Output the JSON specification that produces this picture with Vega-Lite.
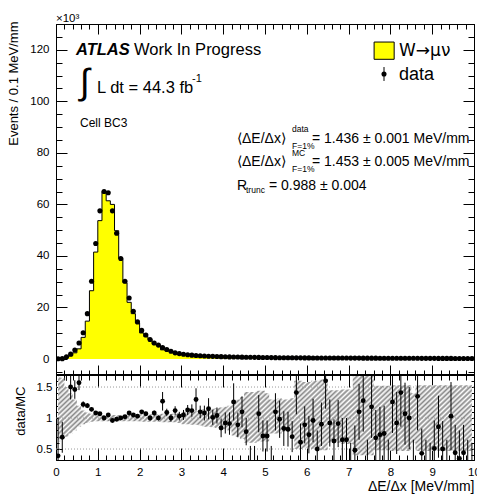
{
"$schema": "https://vega.github.io/schema/vega-lite/v6.json",
"autosize": {"type": "pad"},
"padding": {"left": 7, "top": 12, "right": 0, "bottom": 0},
"background": "white",
"spacing": 0,
"bounds": "flush",
"config": {
  "font": "Liberation Sans",
  "view": {"stroke": "black", "strokeWidth": 1},
  "axis": {"domain": false, "grid": false, "labelFlush": false, "tickColor": "black", "tickWidth": 1, "labelColor": "black", "labelFont": "Liberation Sans", "titleColor": "black", "titleFont": "Liberation Sans", "titleFontWeight": "normal"}
},
"datasets": {
  "one": [{}],
  "grid": [{"g": 0.5}, {"g": 1}, {"g": 1.5}],
  "h": [
{"x":0.05,"d":0.1,"mc":0.2,"r":0.39,"e":0.62,"lo":0.62,"hi":1.69},
{"x":0.15,"d":0.15,"mc":0.22,"r":0.69,"e":0.25,"lo":0.66,"hi":1.65},
{"x":0.25,"d":0.9,"mc":0.5,"r":1.9,"e":0.3,"lo":0.70,"hi":1.50},
{"x":0.35,"d":1.9,"mc":1.27,"r":1.50,"e":0.2,"lo":0.75,"hi":1.40},
{"x":0.45,"d":3.5,"mc":2.4,"r":1.46,"e":0.15,"lo":0.80,"hi":1.30},
{"x":0.55,"d":6.2,"mc":3.95,"r":1.57,"e":0.12,"lo":0.86,"hi":1.20},
{"x":0.65,"d":10.2,"mc":8.4,"r":1.22,"e":0.05,"lo":0.90,"hi":1.12},
{"x":0.75,"d":17.6,"mc":14.7,"r":1.20,"e":0.04,"lo":0.92,"hi":1.09},
{"x":0.85,"d":30.2,"mc":26.5,"r":1.14,"e":0.03,"lo":0.94,"hi":1.07},
{"x":0.95,"d":44.8,"mc":41.5,"r":1.08,"e":0.02,"lo":0.95,"hi":1.06},
{"x":1.05,"d":57.5,"mc":53.7,"r":1.07,"e":0.02,"lo":0.95,"hi":1.05},
{"x":1.15,"d":65.0,"mc":65.0,"r":1.00,"e":0.02,"lo":0.95,"hi":1.05},
{"x":1.25,"d":64.5,"mc":61.4,"r":1.05,"e":0.02,"lo":0.95,"hi":1.05},
{"x":1.35,"d":57.5,"mc":60.0,"r":0.96,"e":0.02,"lo":0.95,"hi":1.05},
{"x":1.45,"d":48.8,"mc":49.8,"r":0.98,"e":0.02,"lo":0.95,"hi":1.05},
{"x":1.55,"d":39.0,"mc":39.0,"r":1.00,"e":0.02,"lo":0.95,"hi":1.05},
{"x":1.65,"d":30.2,"mc":29.6,"r":1.02,"e":0.02,"lo":0.95,"hi":1.05},
{"x":1.75,"d":23.7,"mc":22.0,"r":1.08,"e":0.02,"lo":0.95,"hi":1.05},
{"x":1.85,"d":18.5,"mc":17.6,"r":1.05,"e":0.02,"lo":0.95,"hi":1.05},
{"x":1.95,"d":14.4,"mc":14.0,"r":1.03,"e":0.02,"lo":0.95,"hi":1.05},
{"x":2.05,"d":11.1,"mc":10.1,"r":1.10,"e":0.03,"lo":0.94,"hi":1.06},
{"x":2.15,"d":9.3,"mc":8.7,"r":1.07,"e":0.03,"lo":0.94,"hi":1.06},
{"x":2.25,"d":7.6,"mc":7.6,"r":1.00,"e":0.04,"lo":0.94,"hi":1.06},
{"x":2.35,"d":6.2,"mc":5.75,"r":1.08,"e":0.04,"lo":0.94,"hi":1.06},
{"x":2.45,"d":5.4,"mc":5.4,"r":1.00,"e":0.04,"lo":0.94,"hi":1.06},
{"x":2.55,"d":4.5,"mc":3.55,"r":1.27,"e":0.15,"lo":0.93,"hi":1.07},
{"x":2.65,"d":3.7,"mc":3.4,"r":1.09,"e":0.06,"lo":0.93,"hi":1.07},
{"x":2.75,"d":3.0,"mc":3.0,"r":1.00,"e":0.06,"lo":0.93,"hi":1.07},
{"x":2.85,"d":2.4,"mc":2.15,"r":1.12,"e":0.07,"lo":0.93,"hi":1.07},
{"x":2.95,"d":2.1,"mc":2.05,"r":1.03,"e":0.07,"lo":0.92,"hi":1.08},
{"x":3.05,"d":1.85,"mc":1.76,"r":1.05,"e":0.08,"lo":0.90,"hi":1.10},
{"x":3.15,"d":1.65,"mc":1.46,"r":1.13,"e":0.08,"lo":0.90,"hi":1.10},
{"x":3.25,"d":1.5,"mc":1.34,"r":1.12,"e":0.1,"lo":0.89,"hi":1.11},
{"x":3.35,"d":1.38,"mc":1.06,"r":1.30,"e":0.18,"lo":0.89,"hi":1.11},
{"x":3.45,"d":1.27,"mc":1.15,"r":1.10,"e":0.1,"lo":0.88,"hi":1.12},
{"x":3.55,"d":1.18,"mc":1.09,"r":1.08,"e":0.12,"lo":0.86,"hi":1.14},
{"x":3.65,"d":1.1,"mc":0.96,"r":1.15,"e":0.17,"lo":0.86,"hi":1.14},
{"x":3.75,"d":1.03,"mc":1.02,"r":1.01,"e":0.12,"lo":0.85,"hi":1.15},
{"x":3.85,"d":0.97,"mc":0.93,"r":1.04,"e":0.13,"lo":0.84,"hi":1.16},
{"x":3.95,"d":0.92,"mc":1.1,"r":0.84,"e":0.15,"lo":0.83,"hi":1.17},
{"x":4.05,"d":0.87,"mc":0.95,"r":0.92,"e":0.17,"lo":0.82,"hi":1.18},
{"x":4.15,"d":0.83,"mc":0.91,"r":0.91,"e":0.18,"lo":0.80,"hi":1.20},
{"x":4.25,"d":0.79,"mc":0.63,"r":1.26,"e":0.3,"lo":0.72,"hi":1.28},
{"x":4.35,"d":0.76,"mc":0.85,"r":0.89,"e":0.2,"lo":0.70,"hi":1.30},
{"x":4.45,"d":0.73,"mc":0.66,"r":1.10,"e":0.25,"lo":0.66,"hi":1.34},
{"x":4.55,"d":0.7,"mc":0.9,"r":0.78,"e":0.22,"lo":0.60,"hi":1.42},
{"x":4.65,"d":0.67,"mc":0.7,"r":0.25,"e":0.3,"lo":0.60,"hi":1.42},
{"x":4.75,"d":0.65,"mc":0.68,"r":0.25,"e":0.3,"lo":0.60,"hi":1.42},
{"x":4.85,"d":0.62,"mc":0.58,"r":1.07,"e":0.3,"lo":0.62,"hi":1.44},
{"x":4.95,"d":0.6,"mc":0.85,"r":0.71,"e":0.25,"lo":0.62,"hi":1.44},
{"x":5.05,"d":0.58,"mc":0.8,"r":0.71,"e":0.25,"lo":0.62,"hi":1.40},
{"x":5.15,"d":0.56,"mc":0.6,"r":0.25,"e":0.3,"lo":0.75,"hi":1.30},
{"x":5.25,"d":0.54,"mc":0.49,"r":1.10,"e":0.3,"lo":0.75,"hi":1.30},
{"x":5.35,"d":0.52,"mc":0.53,"r":0.98,"e":0.3,"lo":0.75,"hi":1.32},
{"x":5.45,"d":0.51,"mc":0.6,"r":0.83,"e":0.28,"lo":0.78,"hi":1.30},
{"x":5.55,"d":0.49,"mc":0.6,"r":0.82,"e":0.28,"lo":0.78,"hi":1.30},
{"x":5.65,"d":0.48,"mc":0.68,"r":0.70,"e":0.25,"lo":0.75,"hi":1.32},
{"x":5.75,"d":0.46,"mc":0.33,"r":1.41,"e":0.35,"lo":0.50,"hi":1.60},
{"x":5.85,"d":0.45,"mc":0.7,"r":0.61,"e":0.3,"lo":0.50,"hi":1.60},
{"x":5.95,"d":0.44,"mc":0.5,"r":0.89,"e":0.3,"lo":0.52,"hi":1.58},
{"x":6.05,"d":0.43,"mc":0.59,"r":0.73,"e":0.3,"lo":0.52,"hi":1.58},
{"x":6.15,"d":0.42,"mc":0.44,"r":0.96,"e":0.35,"lo":0.50,"hi":1.60},
{"x":6.25,"d":0.41,"mc":0.8,"r":0.50,"e":0.3,"lo":0.50,"hi":1.60},
{"x":6.35,"d":0.41,"mc":0.45,"r":0.90,"e":0.35,"lo":0.48,"hi":1.62},
{"x":6.45,"d":0.40,"mc":0.25,"r":1.60,"e":0.45,"lo":0.48,"hi":1.62},
{"x":6.55,"d":0.39,"mc":0.42,"r":0.92,"e":0.38,"lo":0.60,"hi":1.45},
{"x":6.65,"d":0.39,"mc":0.6,"r":0.63,"e":0.35,"lo":0.60,"hi":1.45},
{"x":6.75,"d":0.38,"mc":0.42,"r":0.91,"e":0.38,"lo":0.60,"hi":1.45},
{"x":6.85,"d":0.37,"mc":0.57,"r":0.65,"e":0.35,"lo":0.58,"hi":1.46},
{"x":6.95,"d":0.37,"mc":0.57,"r":0.65,"e":0.35,"lo":0.58,"hi":1.46},
{"x":7.05,"d":0.36,"mc":0.4,"r":0.25,"e":0.35,"lo":0.58,"hi":1.46},
{"x":7.15,"d":0.35,"mc":0.7,"r":0.48,"e":0.4,"lo":0.40,"hi":1.69},
{"x":7.25,"d":0.35,"mc":0.32,"r":1.10,"e":0.45,"lo":0.40,"hi":1.69},
{"x":7.35,"d":0.34,"mc":0.27,"r":1.28,"e":0.5,"lo":0.40,"hi":1.69},
{"x":7.45,"d":0.34,"mc":0.4,"r":0.25,"e":0.4,"lo":0.40,"hi":1.69},
{"x":7.55,"d":0.33,"mc":0.28,"r":1.18,"e":0.5,"lo":0.40,"hi":1.69},
{"x":7.65,"d":0.33,"mc":0.48,"r":0.68,"e":0.45,"lo":0.48,"hi":1.52},
{"x":7.75,"d":0.32,"mc":0.44,"r":0.73,"e":0.45,"lo":0.48,"hi":1.52},
{"x":7.85,"d":0.32,"mc":0.43,"r":0.75,"e":0.45,"lo":0.48,"hi":1.52},
{"x":7.95,"d":0.31,"mc":0.4,"r":0.25,"e":0.4,"lo":0.48,"hi":1.52},
{"x":8.05,"d":0.31,"mc":0.25,"r":1.26,"e":0.5,"lo":0.47,"hi":1.53},
{"x":8.15,"d":0.30,"mc":0.33,"r":0.92,"e":0.5,"lo":0.47,"hi":1.53},
{"x":8.25,"d":0.30,"mc":0.21,"r":1.41,"e":0.55,"lo":0.47,"hi":1.53},
{"x":8.35,"d":0.29,"mc":0.27,"r":1.07,"e":0.5,"lo":0.47,"hi":1.53},
{"x":8.45,"d":0.29,"mc":0.29,"r":1.00,"e":0.5,"lo":0.47,"hi":1.53},
{"x":8.55,"d":0.28,"mc":0.35,"r":0.25,"e":0.4,"lo":0.60,"hi":1.40},
{"x":8.65,"d":0.28,"mc":0.21,"r":1.35,"e":0.55,"lo":0.47,"hi":1.53},
{"x":8.75,"d":0.27,"mc":0.6,"r":0.43,"e":0.4,"lo":0.47,"hi":1.53},
{"x":8.85,"d":0.27,"mc":0.35,"r":0.25,"e":0.4,"lo":0.47,"hi":1.53},
{"x":8.95,"d":0.26,"mc":0.35,"r":0.2,"e":0.4,"lo":0.47,"hi":1.53},
{"x":9.05,"d":0.26,"mc":0.5,"r":0.51,"e":0.45,"lo":0.47,"hi":1.53},
{"x":9.15,"d":0.25,"mc":0.29,"r":0.86,"e":0.5,"lo":0.47,"hi":1.53},
{"x":9.25,"d":0.25,"mc":0.5,"r":0.50,"e":0.45,"lo":0.47,"hi":1.53},
{"x":9.35,"d":0.24,"mc":0.3,"r":0.25,"e":0.4,"lo":0.47,"hi":1.53},
{"x":9.45,"d":0.24,"mc":0.23,"r":1.03,"e":0.55,"lo":0.47,"hi":1.53},
{"x":9.55,"d":0.23,"mc":0.5,"r":0.44,"e":0.45,"lo":0.47,"hi":1.53},
{"x":9.65,"d":0.23,"mc":0.6,"r":0.35,"e":0.45,"lo":0.47,"hi":1.53},
{"x":9.75,"d":0.23,"mc":0.5,"r":0.44,"e":0.45,"lo":0.47,"hi":1.53},
{"x":9.85,"d":0.22,"mc":0.3,"r":0.25,"e":0.4,"lo":0.47,"hi":1.53},
{"x":9.95,"d":0.22,"mc":0.3,"r":0.2,"e":0.4,"lo":0.47,"hi":1.53}
  ]
},
"vconcat": [
{
  "width": 418, "height": 351,
  "resolve": {"axis": {"x": "independent", "y": "independent"}},
  "layer": [
    {"data": {"name": "h"},
     "mark": {"type": "area", "interpolate": "step", "fill": "#ffff00", "clip": true},
     "encoding": {
       "x": {"field": "x", "type": "quantitative", "scale": {"domain": [0, 10], "nice": false, "zero": false},
             "axis": {"orient": "bottom", "values": [0,1,2,3,4,5,6,7,8,9,10], "tickSize": 10, "offset": -10, "labels": false, "title": null}},
       "y": {"field": "mc", "type": "quantitative", "scale": {"domain": [-6.2, 130], "nice": false, "zero": false},
             "axis": {"orient": "left", "values": [0,20,40,60,80,100,120], "tickSize": 11, "offset": -11, "labelPadding": 7, "labelFontSize": 11.5, "title": "Events / 0.1 MeV/mm", "titleFontSize": 13, "titleAnchor": "end", "titlePadding": 9, "titleY": -3}}
     }},
    {"data": {"name": "h"},
     "mark": {"type": "line", "interpolate": "step", "color": "black", "strokeWidth": 1, "clip": true},
     "encoding": {
       "x": {"field": "x", "type": "quantitative", "axis": null},
       "y": {"field": "mc", "type": "quantitative", "axis": null}
     }},
    {"data": {"name": "h"},
     "mark": {"type": "point", "filled": true, "color": "black", "opacity": 1, "size": 26, "clip": true},
     "encoding": {
       "x": {"field": "x", "type": "quantitative",
             "axis": {"orient": "bottom", "values": [0,0.2,0.4,0.6,0.8,1,1.2,1.4,1.6,1.8,2,2.2,2.4,2.6,2.8,3,3.2,3.4,3.6,3.8,4,4.2,4.4,4.6,4.8,5,5.2,5.4,5.6,5.8,6,6.2,6.4,6.6,6.8,7,7.2,7.4,7.6,7.8,8,8.2,8.4,8.6,8.8,9,9.2,9.4,9.6,9.8,10], "tickSize": 5, "offset": -5, "labels": false, "title": null}},
       "y": {"field": "d", "type": "quantitative",
             "axis": {"orient": "left", "values": [-5,0,5,10,15,20,25,30,35,40,45,50,55,60,65,70,75,80,85,90,95,100,105,110,115,120,125,130], "tickSize": 6, "offset": -6, "labels": false, "title": null}}
     }},
    {"data": {"name": "h"},
     "mark": {"type": "point", "opacity": 0},
     "encoding": {
       "x": {"field": "x", "type": "quantitative",
             "axis": {"orient": "top", "values": [0,1,2,3,4,5,6,7,8,9,10], "tickSize": 10, "offset": -10, "labels": false, "title": null}},
       "y": {"field": "d", "type": "quantitative",
             "axis": {"orient": "right", "values": [0,20,40,60,80,100,120], "tickSize": 11, "offset": -11, "labels": false, "title": null}}
     }},
    {"data": {"name": "h"},
     "mark": {"type": "point", "opacity": 0},
     "encoding": {
       "x": {"field": "x", "type": "quantitative",
             "axis": {"orient": "top", "values": [0,0.2,0.4,0.6,0.8,1,1.2,1.4,1.6,1.8,2,2.2,2.4,2.6,2.8,3,3.2,3.4,3.6,3.8,4,4.2,4.4,4.6,4.8,5,5.2,5.4,5.6,5.8,6,6.2,6.4,6.6,6.8,7,7.2,7.4,7.6,7.8,8,8.2,8.4,8.6,8.8,9,9.2,9.4,9.6,9.8,10], "tickSize": 5, "offset": -5, "labels": false, "title": null}},
       "y": {"field": "d", "type": "quantitative",
             "axis": {"orient": "right", "values": [-5,0,5,10,15,20,25,30,35,40,45,50,55,60,65,70,75,80,85,90,95,100,105,110,115,120,125,130], "tickSize": 6, "offset": -6, "labels": false, "title": null}}
     }},
    {"data": {"name": "one"}, "mark": {"type": "text", "text": "×10³", "fontSize": 11.5, "align": "left", "baseline": "alphabetic"},
     "encoding": {"x": {"datum": 0, "axis": null}, "y": {"datum": 130.6, "axis": null}}},
    {"data": {"name": "one"}, "mark": {"type": "text", "text": "ATLAS", "fontSize": 16.5, "fontStyle": "italic", "fontWeight": "bold", "align": "left", "baseline": "alphabetic"},
     "encoding": {"x": {"datum": 0.478, "axis": null}, "y": {"datum": 118, "axis": null}}},
    {"data": {"name": "one"}, "mark": {"type": "text", "text": "Work In Progress", "fontSize": 16.5, "align": "left", "baseline": "alphabetic"},
     "encoding": {"x": {"datum": 1.866, "axis": null}, "y": {"datum": 118, "axis": null}}},
    {"data": {"name": "one"}, "mark": {"type": "text", "text": "∫", "fontSize": 36, "align": "left", "baseline": "middle"},
     "encoding": {"x": {"datum": 0.574, "axis": null}, "y": {"datum": 107.1, "axis": null}}},
    {"data": {"name": "one"}, "mark": {"type": "text", "text": "L dt = 44.3 fb", "fontSize": 16.5, "align": "left", "baseline": "alphabetic"},
     "encoding": {"x": {"datum": 0.981, "axis": null}, "y": {"datum": 103.2, "axis": null}}},
    {"data": {"name": "one"}, "mark": {"type": "text", "text": "-1", "fontSize": 11, "align": "left", "baseline": "alphabetic"},
     "encoding": {"x": {"datum": 3.254, "axis": null}, "y": {"datum": 107.5, "axis": null}}},
    {"data": {"name": "one"}, "mark": {"type": "text", "text": "Cell BC3", "fontSize": 12, "align": "left", "baseline": "alphabetic"},
     "encoding": {"x": {"datum": 0.574, "axis": null}, "y": {"datum": 90, "axis": null}}},
    {"data": {"name": "one"}, "mark": {"type": "rect", "fill": "#ffff00", "stroke": "black", "strokeWidth": 1},
     "encoding": {"x": {"datum": 7.61, "axis": null}, "x2": {"datum": 8.09}, "y": {"datum": 123.0, "axis": null}, "y2": {"datum": 116.3}}},
    {"data": {"name": "one"}, "mark": {"type": "text", "text": "W→μν", "font": "DejaVu Sans", "fontSize": 17, "align": "left", "baseline": "alphabetic"},
     "encoding": {"x": {"datum": 8.206, "axis": null}, "y": {"datum": 117.6, "axis": null}}},
    {"data": {"name": "one"}, "mark": {"type": "rule", "color": "black", "strokeWidth": 1},
     "encoding": {"x": {"datum": 7.847, "axis": null}, "y": {"datum": 113.3, "axis": null}, "y2": {"datum": 107.9}}},
    {"data": {"name": "one"}, "mark": {"type": "point", "filled": true, "color": "black", "opacity": 1, "size": 26},
     "encoding": {"x": {"datum": 7.847, "axis": null}, "y": {"datum": 110.6, "axis": null}}},
    {"data": {"name": "one"}, "mark": {"type": "text", "text": "data", "fontSize": 18, "align": "left", "baseline": "alphabetic"},
     "encoding": {"x": {"datum": 8.206, "axis": null}, "y": {"datum": 108.3, "axis": null}}},
    {"data": {"name": "one"}, "mark": {"type": "text", "text": "⟨ΔE/Δx⟩", "fontSize": 14, "align": "left", "baseline": "alphabetic"},
     "encoding": {"x": {"datum": 4.33, "axis": null}, "y": {"datum": 83.8, "axis": null}}},
    {"data": {"name": "one"}, "mark": {"type": "text", "text": "data", "fontSize": 8.5, "align": "left", "baseline": "alphabetic"},
     "encoding": {"x": {"datum": 5.646, "axis": null}, "y": {"datum": 87.9, "axis": null}}},
    {"data": {"name": "one"}, "mark": {"type": "text", "text": "F=1%", "fontSize": 8.5, "align": "left", "baseline": "alphabetic"},
     "encoding": {"x": {"datum": 5.646, "axis": null}, "y": {"datum": 81.6, "axis": null}}},
    {"data": {"name": "one"}, "mark": {"type": "text", "text": "= 1.436 ± 0.001 MeV/mm", "fontSize": 14, "align": "left", "baseline": "alphabetic"},
     "encoding": {"x": {"datum": 6.124, "axis": null}, "y": {"datum": 83.8, "axis": null}}},
    {"data": {"name": "one"}, "mark": {"type": "text", "text": "⟨ΔE/Δx⟩", "fontSize": 14, "align": "left", "baseline": "alphabetic"},
     "encoding": {"x": {"datum": 4.33, "axis": null}, "y": {"datum": 74.9, "axis": null}}},
    {"data": {"name": "one"}, "mark": {"type": "text", "text": "MC", "fontSize": 8.5, "align": "left", "baseline": "alphabetic"},
     "encoding": {"x": {"datum": 5.646, "axis": null}, "y": {"datum": 78.6, "axis": null}}},
    {"data": {"name": "one"}, "mark": {"type": "text", "text": "F=1%", "fontSize": 8.5, "align": "left", "baseline": "alphabetic"},
     "encoding": {"x": {"datum": 5.646, "axis": null}, "y": {"datum": 72.6, "axis": null}}},
    {"data": {"name": "one"}, "mark": {"type": "text", "text": "= 1.453 ± 0.005 MeV/mm", "fontSize": 14, "align": "left", "baseline": "alphabetic"},
     "encoding": {"x": {"datum": 6.124, "axis": null}, "y": {"datum": 74.9, "axis": null}}},
    {"data": {"name": "one"}, "mark": {"type": "text", "text": "R", "fontSize": 14, "align": "left", "baseline": "alphabetic"},
     "encoding": {"x": {"datum": 4.33, "axis": null}, "y": {"datum": 65.6, "axis": null}}},
    {"data": {"name": "one"}, "mark": {"type": "text", "text": "trunc", "fontSize": 8.5, "align": "left", "baseline": "alphabetic"},
     "encoding": {"x": {"datum": 4.545, "axis": null}, "y": {"datum": 64.4, "axis": null}}},
    {"data": {"name": "one"}, "mark": {"type": "text", "text": "= 0.988 ± 0.004", "fontSize": 14, "align": "left", "baseline": "alphabetic"},
     "encoding": {"x": {"datum": 5.096, "axis": null}, "y": {"datum": 65.6, "axis": null}}}
  ]
},
{
  "width": 418, "height": 85,
  "resolve": {"axis": {"x": "independent", "y": "independent"}},
  "layer": [
    {"data": {"name": "h"},
     "mark": {"type": "area", "interpolate": "step", "clip": true,
       "fill": {"gradient": "linear", "x1": 0, "y1": 0, "x2": 1.2, "y2": 0.245, "stops": [
{"offset":0,"color":"#888"},{"offset":0.005,"color":"#fff"},{"offset":0.01,"color":"#888"},{"offset":0.015,"color":"#fff"},{"offset":0.02,"color":"#888"},{"offset":0.025,"color":"#fff"},{"offset":0.03,"color":"#888"},{"offset":0.035,"color":"#fff"},{"offset":0.04,"color":"#888"},{"offset":0.045,"color":"#fff"},
{"offset":0.05,"color":"#888"},{"offset":0.055,"color":"#fff"},{"offset":0.06,"color":"#888"},{"offset":0.065,"color":"#fff"},{"offset":0.07,"color":"#888"},{"offset":0.075,"color":"#fff"},{"offset":0.08,"color":"#888"},{"offset":0.085,"color":"#fff"},{"offset":0.09,"color":"#888"},{"offset":0.095,"color":"#fff"},
{"offset":0.1,"color":"#888"},{"offset":0.105,"color":"#fff"},{"offset":0.11,"color":"#888"},{"offset":0.115,"color":"#fff"},{"offset":0.12,"color":"#888"},{"offset":0.125,"color":"#fff"},{"offset":0.13,"color":"#888"},{"offset":0.135,"color":"#fff"},{"offset":0.14,"color":"#888"},{"offset":0.145,"color":"#fff"},
{"offset":0.15,"color":"#888"},{"offset":0.155,"color":"#fff"},{"offset":0.16,"color":"#888"},{"offset":0.165,"color":"#fff"},{"offset":0.17,"color":"#888"},{"offset":0.175,"color":"#fff"},{"offset":0.18,"color":"#888"},{"offset":0.185,"color":"#fff"},{"offset":0.19,"color":"#888"},{"offset":0.195,"color":"#fff"},
{"offset":0.2,"color":"#888"},{"offset":0.205,"color":"#fff"},{"offset":0.21,"color":"#888"},{"offset":0.215,"color":"#fff"},{"offset":0.22,"color":"#888"},{"offset":0.225,"color":"#fff"},{"offset":0.23,"color":"#888"},{"offset":0.235,"color":"#fff"},{"offset":0.24,"color":"#888"},{"offset":0.245,"color":"#fff"},
{"offset":0.25,"color":"#888"},{"offset":0.255,"color":"#fff"},{"offset":0.26,"color":"#888"},{"offset":0.265,"color":"#fff"},{"offset":0.27,"color":"#888"},{"offset":0.275,"color":"#fff"},{"offset":0.28,"color":"#888"},{"offset":0.285,"color":"#fff"},{"offset":0.29,"color":"#888"},{"offset":0.295,"color":"#fff"},
{"offset":0.3,"color":"#888"},{"offset":0.305,"color":"#fff"},{"offset":0.31,"color":"#888"},{"offset":0.315,"color":"#fff"},{"offset":0.32,"color":"#888"},{"offset":0.325,"color":"#fff"},{"offset":0.33,"color":"#888"},{"offset":0.335,"color":"#fff"},{"offset":0.34,"color":"#888"},{"offset":0.345,"color":"#fff"},
{"offset":0.35,"color":"#888"},{"offset":0.355,"color":"#fff"},{"offset":0.36,"color":"#888"},{"offset":0.365,"color":"#fff"},{"offset":0.37,"color":"#888"},{"offset":0.375,"color":"#fff"},{"offset":0.38,"color":"#888"},{"offset":0.385,"color":"#fff"},{"offset":0.39,"color":"#888"},{"offset":0.395,"color":"#fff"},
{"offset":0.4,"color":"#888"},{"offset":0.405,"color":"#fff"},{"offset":0.41,"color":"#888"},{"offset":0.415,"color":"#fff"},{"offset":0.42,"color":"#888"},{"offset":0.425,"color":"#fff"},{"offset":0.43,"color":"#888"},{"offset":0.435,"color":"#fff"},{"offset":0.44,"color":"#888"},{"offset":0.445,"color":"#fff"},
{"offset":0.45,"color":"#888"},{"offset":0.455,"color":"#fff"},{"offset":0.46,"color":"#888"},{"offset":0.465,"color":"#fff"},{"offset":0.47,"color":"#888"},{"offset":0.475,"color":"#fff"},{"offset":0.48,"color":"#888"},{"offset":0.485,"color":"#fff"},{"offset":0.49,"color":"#888"},{"offset":0.495,"color":"#fff"},
{"offset":0.5,"color":"#888"},{"offset":0.505,"color":"#fff"},{"offset":0.51,"color":"#888"},{"offset":0.515,"color":"#fff"},{"offset":0.52,"color":"#888"},{"offset":0.525,"color":"#fff"},{"offset":0.53,"color":"#888"},{"offset":0.535,"color":"#fff"},{"offset":0.54,"color":"#888"},{"offset":0.545,"color":"#fff"},
{"offset":0.55,"color":"#888"},{"offset":0.555,"color":"#fff"},{"offset":0.56,"color":"#888"},{"offset":0.565,"color":"#fff"},{"offset":0.57,"color":"#888"},{"offset":0.575,"color":"#fff"},{"offset":0.58,"color":"#888"},{"offset":0.585,"color":"#fff"},{"offset":0.59,"color":"#888"},{"offset":0.595,"color":"#fff"},
{"offset":0.6,"color":"#888"},{"offset":0.605,"color":"#fff"},{"offset":0.61,"color":"#888"},{"offset":0.615,"color":"#fff"},{"offset":0.62,"color":"#888"},{"offset":0.625,"color":"#fff"},{"offset":0.63,"color":"#888"},{"offset":0.635,"color":"#fff"},{"offset":0.64,"color":"#888"},{"offset":0.645,"color":"#fff"},
{"offset":0.65,"color":"#888"},{"offset":0.655,"color":"#fff"},{"offset":0.66,"color":"#888"},{"offset":0.665,"color":"#fff"},{"offset":0.67,"color":"#888"},{"offset":0.675,"color":"#fff"},{"offset":0.68,"color":"#888"},{"offset":0.685,"color":"#fff"},{"offset":0.69,"color":"#888"},{"offset":0.695,"color":"#fff"},
{"offset":0.7,"color":"#888"},{"offset":0.705,"color":"#fff"},{"offset":0.71,"color":"#888"},{"offset":0.715,"color":"#fff"},{"offset":0.72,"color":"#888"},{"offset":0.725,"color":"#fff"},{"offset":0.73,"color":"#888"},{"offset":0.735,"color":"#fff"},{"offset":0.74,"color":"#888"},{"offset":0.745,"color":"#fff"},
{"offset":0.75,"color":"#888"},{"offset":0.755,"color":"#fff"},{"offset":0.76,"color":"#888"},{"offset":0.765,"color":"#fff"},{"offset":0.77,"color":"#888"},{"offset":0.775,"color":"#fff"},{"offset":0.78,"color":"#888"},{"offset":0.785,"color":"#fff"},{"offset":0.79,"color":"#888"},{"offset":0.795,"color":"#fff"},
{"offset":0.8,"color":"#888"},{"offset":0.805,"color":"#fff"},{"offset":0.81,"color":"#888"},{"offset":0.815,"color":"#fff"},{"offset":0.82,"color":"#888"},{"offset":0.825,"color":"#fff"},{"offset":0.83,"color":"#888"},{"offset":0.835,"color":"#fff"},{"offset":0.84,"color":"#888"},{"offset":0.845,"color":"#fff"},
{"offset":0.85,"color":"#888"},{"offset":0.855,"color":"#fff"},{"offset":0.86,"color":"#888"},{"offset":0.865,"color":"#fff"},{"offset":0.87,"color":"#888"},{"offset":0.875,"color":"#fff"},{"offset":0.88,"color":"#888"},{"offset":0.885,"color":"#fff"},{"offset":0.89,"color":"#888"},{"offset":0.895,"color":"#fff"},
{"offset":0.9,"color":"#888"},{"offset":0.905,"color":"#fff"},{"offset":0.91,"color":"#888"},{"offset":0.915,"color":"#fff"},{"offset":0.92,"color":"#888"},{"offset":0.925,"color":"#fff"},{"offset":0.93,"color":"#888"},{"offset":0.935,"color":"#fff"},{"offset":0.94,"color":"#888"},{"offset":0.945,"color":"#fff"},
{"offset":0.95,"color":"#888"},{"offset":0.955,"color":"#fff"},{"offset":0.96,"color":"#888"},{"offset":0.965,"color":"#fff"},{"offset":0.97,"color":"#888"},{"offset":0.975,"color":"#fff"},{"offset":0.98,"color":"#888"},{"offset":0.985,"color":"#fff"},{"offset":0.99,"color":"#888"},{"offset":1,"color":"#fff"}
       ]}},
     "encoding": {
       "x": {"field": "x", "type": "quantitative", "scale": {"domain": [0, 10], "nice": false, "zero": false},
             "axis": {"orient": "bottom", "values": [0,1,2,3,4,5,6,7,8,9,10], "tickSize": 12, "offset": -12, "labelPadding": 6, "labelFontSize": 11.5, "title": "ΔE/Δx [MeV/mm]", "titleFontSize": 14, "titleAnchor": "end", "titlePadding": 2}},
       "y": {"field": "lo", "type": "quantitative", "scale": {"domain": [0.323, 1.694], "nice": false, "zero": false},
             "axis": {"orient": "left", "values": [0.5, 1, 1.5], "format": "~g", "tickSize": 6, "offset": -6, "labelPadding": 4, "labelFontSize": 11.5, "title": "data/MC", "titleFontSize": 13, "titleAnchor": "end", "titlePadding": 9, "titleY": 11}},
       "y2": {"field": "hi"}
     }},
    {"data": {"name": "grid"},
     "mark": {"type": "rule", "color": "#999", "strokeDash": [1, 2], "strokeWidth": 1},
     "encoding": {"y": {"field": "g", "type": "quantitative", "axis": null}}},
    {"data": {"name": "one"},
     "mark": {"type": "rule", "color": "black", "strokeWidth": 2},
     "encoding": {"y": {"datum": 1.694, "axis": null}}},
    {"data": {"name": "h"},
     "mark": {"type": "errorbar", "color": "black", "thickness": 1, "clip": true},
     "encoding": {
       "x": {"field": "x", "type": "quantitative", "axis": null},
       "y": {"field": "r", "type": "quantitative", "axis": null},
       "yError": {"field": "e"}
     }},
    {"data": {"name": "h"},
     "mark": {"type": "point", "filled": true, "color": "black", "opacity": 1, "size": 24, "clip": true},
     "encoding": {
       "x": {"field": "x", "type": "quantitative",
             "axis": {"orient": "bottom", "values": [0,0.2,0.4,0.6,0.8,1,1.2,1.4,1.6,1.8,2,2.2,2.4,2.6,2.8,3,3.2,3.4,3.6,3.8,4,4.2,4.4,4.6,4.8,5,5.2,5.4,5.6,5.8,6,6.2,6.4,6.6,6.8,7,7.2,7.4,7.6,7.8,8,8.2,8.4,8.6,8.8,9,9.2,9.4,9.6,9.8,10], "tickSize": 5, "offset": -5, "labels": false, "title": null}},
       "y": {"field": "r", "type": "quantitative",
             "axis": {"orient": "left", "values": [0.4,0.5,0.6,0.7,0.8,0.9,1,1.1,1.2,1.3,1.4,1.5,1.6], "tickSize": 3, "offset": -3, "labels": false, "title": null}}
     }},
    {"data": {"name": "h"},
     "mark": {"type": "point", "opacity": 0},
     "encoding": {
       "x": {"field": "x", "type": "quantitative",
             "axis": {"orient": "top", "values": [0,1,2,3,4,5,6,7,8,9,10], "tickSize": 12, "offset": -12, "labels": false, "title": null}},
       "y": {"field": "r", "type": "quantitative",
             "axis": {"orient": "right", "values": [0.5, 1, 1.5], "tickSize": 6, "offset": -6, "labels": false, "title": null}}
     }},
    {"data": {"name": "h"},
     "mark": {"type": "point", "opacity": 0},
     "encoding": {
       "x": {"field": "x", "type": "quantitative",
             "axis": {"orient": "top", "values": [0,0.2,0.4,0.6,0.8,1,1.2,1.4,1.6,1.8,2,2.2,2.4,2.6,2.8,3,3.2,3.4,3.6,3.8,4,4.2,4.4,4.6,4.8,5,5.2,5.4,5.6,5.8,6,6.2,6.4,6.6,6.8,7,7.2,7.4,7.6,7.8,8,8.2,8.4,8.6,8.8,9,9.2,9.4,9.6,9.8,10], "tickSize": 5, "offset": -5, "labels": false, "title": null}},
       "y": {"field": "r", "type": "quantitative",
             "axis": {"orient": "right", "values": [0.4,0.5,0.6,0.7,0.8,0.9,1,1.1,1.2,1.3,1.4,1.5,1.6], "tickSize": 3, "offset": -3, "labels": false, "title": null}}
     }}
  ]
}
]
}
